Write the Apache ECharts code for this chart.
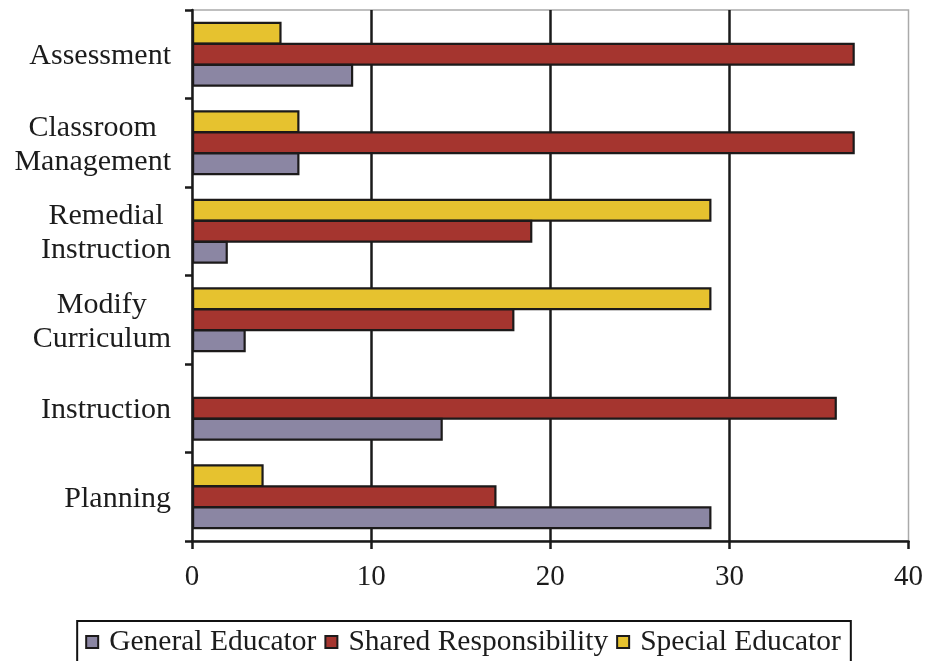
<!DOCTYPE html>
<html>
<head>
<meta charset="utf-8">
<style>
  html, body { margin: 0; padding: 0; background: #fff; }
  #chart { width: 926px; height: 661px; }
</style>
<script src="https://cdn.jsdelivr.net/npm/echarts@6/dist/echarts.min.js"></script>
</head>
<body>
<div id="chart"></div>
<script>
// Responsibility areas, listed top to bottom
const categories = [
  'Assessment',
  'Classroom\nManagement',
  'Remedial\nInstruction',
  'Modify\nCurriculum',
  'Instruction',
  'Planning'
];
const generalEducator = [9, 6, 2, 3, 14, 29];
const sharedResponsibility = [37, 37, 19, 18, 36, 17];
const specialEducator = [5, 6, 29, 29, null, 4];
const xTicks = [0, 10, 20, 30, 40];

const FONT = '"Liberation Serif", "DejaVu Serif", serif';
const chart = echarts.init(document.getElementById('chart'), null, { renderer: 'canvas' });

const barBorder = { borderColor: '#1c1a1a', borderWidth: 2.2 };

chart.setOption({
  animation: false,
  backgroundColor: '#fff',
  grid: {
    left: 192, right: 17, top: 10, bottom: 120,
    show: true, borderColor: '#aaa', borderWidth: 1.5, backgroundColor: 'transparent'
  },
  legend: {
    top: 621,
    left: 'center',
    icon: 'rect',
    itemWidth: 12,
    itemHeight: 12,
    itemGap: 8,
    borderColor: '#111',
    borderWidth: 2,
    padding: [6, 10, 30, 8],
    textStyle: { fontFamily: FONT, fontSize: 29.5, color: '#1c1c1c', padding: [0, 0, 0, 6] },
    data: ['General Educator', 'Shared Responsibility', 'Special Educator']
  },
  xAxis: {
    type: 'value',
    min: xTicks[0],
    max: xTicks[xTicks.length - 1],
    interval: 10,
    axisLine: { show: true, lineStyle: { color: '#1a1a1a', width: 2.5 } },
    axisTick: { show: true, length: 8, lineStyle: { color: '#1a1a1a', width: 2.5 } },
    axisLabel: { margin: 22, fontFamily: FONT, fontSize: 29, color: '#1c1c1c' },
    splitLine: {
      show: true, showMinLine: false, showMaxLine: false,
      lineStyle: { color: '#1a1a1a', width: 2.5 }
    }
  },
  yAxis: {
    type: 'category',
    inverse: true,
    data: categories,
    axisLine: { show: true, lineStyle: { color: '#1a1a1a', width: 2.5 } },
    axisTick: { show: true, length: 7, lineStyle: { color: '#1a1a1a', width: 2.5 } },
    axisLabel: {
      margin: 21,
      fontFamily: FONT,
      fontSize: 30,
      color: '#1c1c1c',
      lineHeight: 34,
      formatter: v => v.split('\n').map(s => '{c|' + s + '}').join('\n'),
      rich: { c: { align: 'center', fontFamily: FONT, fontSize: 30, lineHeight: 34, color: '#1c1c1c', padding: [4, 0, 0, 0] } }
    },
    splitLine: { show: false }
  },
  series: [
    {
      name: 'Special Educator', type: 'bar', data: specialEducator,
      barWidth: 23, barGap: '-9%',
      itemStyle: Object.assign({ color: '#e6c22f' }, barBorder)
    },
    {
      name: 'Shared Responsibility', type: 'bar', data: sharedResponsibility,
      barWidth: 23, barGap: '-9%',
      itemStyle: Object.assign({ color: '#a5352f' }, barBorder)
    },
    {
      name: 'General Educator', type: 'bar', data: generalEducator,
      barWidth: 23, barGap: '-9%',
      itemStyle: Object.assign({ color: '#8b86a3' }, barBorder)
    }
  ]
});
</script>
</body>
</html>
